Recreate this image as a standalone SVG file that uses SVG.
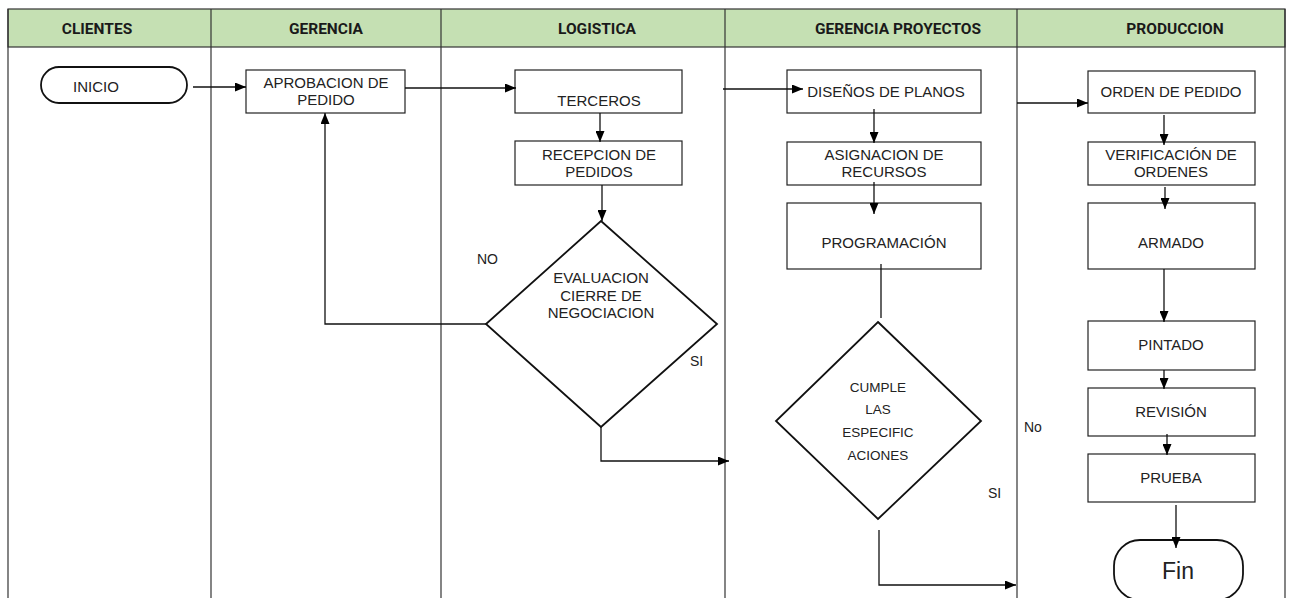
<svg xmlns="http://www.w3.org/2000/svg" width="1291" height="598" viewBox="0 0 1291 598">
<style>
.lane{stroke:#333;stroke-width:1.2;fill:none}
.hdr{font-family:Roboto,"Liberation Sans",Arial,sans-serif;font-weight:bold;font-size:15.5px;fill:#1a1a1a;text-anchor:middle}
.box{fill:#fff;stroke:#222;stroke-width:1.2}
.dia{fill:#fff;stroke:#111;stroke-width:1.8}
.term{fill:#fff;stroke:#111;stroke-width:1.8}
.t{font-family:"Liberation Sans",Arial,sans-serif;font-size:15px;fill:#222;text-anchor:middle}
.ts{font-family:"Liberation Sans",Arial,sans-serif;font-size:13.5px;fill:#222;text-anchor:middle}
.lbl{font-family:"Liberation Sans",Arial,sans-serif;font-size:14px;fill:#222}
.c{fill:none;stroke:#111;stroke-width:1.3}
</style>
<defs>
<marker id="ah" markerWidth="11" markerHeight="9" refX="11" refY="4.5" orient="auto" markerUnits="userSpaceOnUse"><path d="M0,0 L11,4.5 L0,9 z" fill="#000"/></marker>
</defs>
<rect x="0" y="0" width="1291" height="598" fill="#fff"/>
<g id="lanes">
<rect x="8" y="9" width="1277" height="38" fill="#c5e0b3" stroke="#333" stroke-width="1.2"/>
<line class="lane" x1="8" y1="9" x2="8" y2="598"/>
<line class="lane" x1="211" y1="9" x2="211" y2="598"/>
<line class="lane" x1="441" y1="9" x2="441" y2="598"/>
<line class="lane" x1="725" y1="9" x2="725" y2="598"/>
<line class="lane" x1="1017" y1="9" x2="1017" y2="598"/>
<line class="lane" x1="1285" y1="9" x2="1285" y2="598"/>
<text class="hdr" x="97" y="34">CLIENTES</text>
<text class="hdr" x="326" y="34">GERENCIA</text>
<text class="hdr" x="597" y="34">LOGISTICA</text>
<text class="hdr" x="898" y="34">GERENCIA PROYECTOS</text>
<text class="hdr" x="1175" y="34">PRODUCCION</text>
</g>
<g id="inicio"><rect class="term" x="41" y="67" width="146" height="36" rx="18"/><text class="t" x="96" y="92">INICIO</text></g>
<g id="aprobacion"><rect class="box" x="246" y="70" width="159" height="43"/><text class="t" x="326" y="88">APROBACION DE</text><text class="t" x="326" y="105">PEDIDO</text></g>
<g id="terceros"><rect class="box" x="515" y="70" width="167" height="43"/><text class="t" x="599" y="106">TERCEROS</text></g>
<g id="recepcion"><rect class="box" x="515" y="141" width="167" height="44"/><text class="t" x="599" y="160">RECEPCION DE</text><text class="t" x="599" y="177">PEDIDOS</text></g>
<g id="evaluacion"><polygon class="dia" points="601,221 717,324 601,427 486,324"/><text class="t" x="601" y="283">EVALUACION</text><text class="t" x="601" y="301">CIERRE DE</text><text class="t" x="601" y="318">NEGOCIACION</text></g>
<g id="labels"><text class="lbl" x="477" y="264">NO</text><text class="lbl" x="690" y="366">SI</text><text class="lbl" x="988" y="498">SI</text><text class="lbl" x="1024" y="432">No</text></g>
<g id="disenos"><rect class="box" x="787" y="70" width="194" height="43"/><text class="t" x="886" y="97">DISEÑOS DE PLANOS</text></g>
<g id="asignacion"><rect class="box" x="787" y="142" width="194" height="43"/><text class="t" x="884" y="160">ASIGNACION DE</text><text class="t" x="884" y="177">RECURSOS</text></g>
<g id="programacion"><rect class="box" x="787" y="203" width="194" height="66"/><text class="t" x="884" y="248">PROGRAMACIÓN</text></g>
<g id="cumple"><polygon class="dia" points="878,322 981,421 878,519 776,421"/><text class="ts" x="878" y="392">CUMPLE</text><text class="ts" x="878" y="414">LAS</text><text class="ts" x="878" y="437">ESPECIFIC</text><text class="ts" x="878" y="460">ACIONES</text></g>
<g id="orden"><rect class="box" x="1088" y="71" width="167" height="42"/><text class="t" x="1171" y="97">ORDEN DE PEDIDO</text></g>
<g id="verificacion"><rect class="box" x="1088" y="142" width="167" height="43"/><text class="t" x="1171" y="160">VERIFICACIÓN DE</text><text class="t" x="1171" y="177">ORDENES</text></g>
<g id="armado"><rect class="box" x="1088" y="203" width="167" height="66"/><text class="t" x="1171" y="248">ARMADO</text></g>
<g id="pintado"><rect class="box" x="1088" y="321" width="167" height="49"/><text class="t" x="1171" y="350">PINTADO</text></g>
<g id="revision"><rect class="box" x="1088" y="388" width="167" height="48"/><text class="t" x="1171" y="417">REVISIÓN</text></g>
<g id="prueba"><rect class="box" x="1088" y="454" width="167" height="48"/><text class="t" x="1171" y="483">PRUEBA</text></g>
<g id="fin"><rect class="term" x="1114" y="540" width="129" height="60" rx="26"/><text class="t" x="1178" y="579" style="font-size:23px">Fin</text></g>
<g id="connectors">
<path class="c" d="M193,87 H246" marker-end="url(#ah)"/>
<path class="c" d="M405,88 H516" marker-end="url(#ah)"/>
<path class="c" d="M600,113 V142" marker-end="url(#ah)"/>
<path class="c" d="M602,185 V221" marker-end="url(#ah)"/>
<path class="c" d="M486,324 H325 V113" marker-end="url(#ah)"/>
<path class="c" d="M601,427 V461 H729" marker-end="url(#ah)"/>
<path class="c" d="M723,89 H803" marker-end="url(#ah)"/>
<path class="c" d="M874,109 V143" marker-end="url(#ah)"/>
<path class="c" d="M874,182 V214" marker-end="url(#ah)"/>
<path class="c" d="M881,264 V318"/>
<path class="c" d="M879,530 V585 H1016" marker-end="url(#ah)"/>
<path class="c" d="M1017,103 H1088" marker-end="url(#ah)"/>
<path class="c" d="M1164,115 V145" marker-end="url(#ah)"/>
<path class="c" d="M1165,187 V209" marker-end="url(#ah)"/>
<path class="c" d="M1164,269 V322" marker-end="url(#ah)"/>
<path class="c" d="M1164,370 V389" marker-end="url(#ah)"/>
<path class="c" d="M1167,434 V455" marker-end="url(#ah)"/>
<path class="c" d="M1176,505 V548" marker-end="url(#ah)"/>
</g>
</svg>
